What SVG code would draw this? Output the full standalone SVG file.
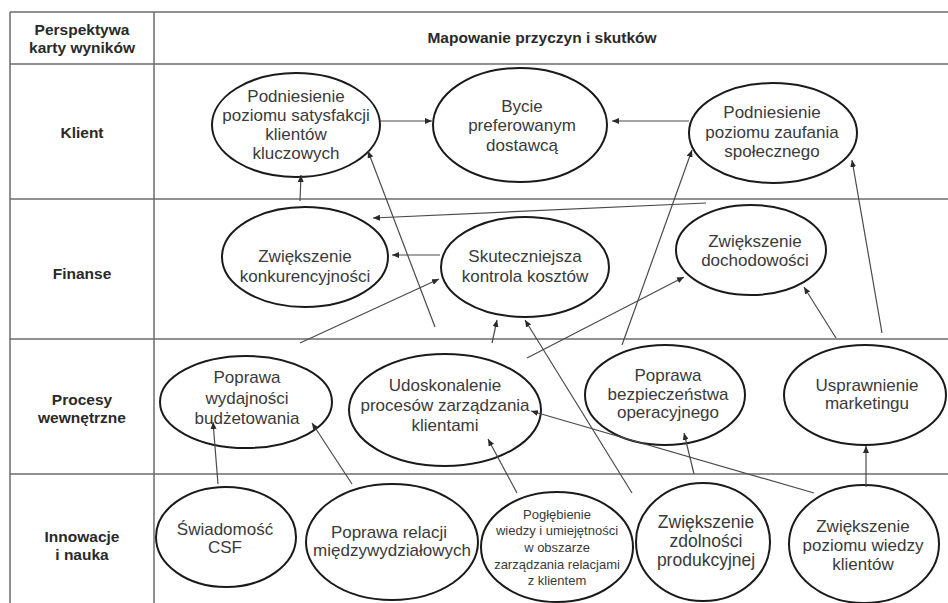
<svg xmlns="http://www.w3.org/2000/svg" width="948" height="603" viewBox="0 0 948 603">
<style>
.grid{stroke:#6b6b6b;stroke-width:1.5;fill:none}
.hdr{font-family:"Liberation Sans",Arial,sans-serif;font-weight:bold;font-size:15.5px;fill:#2a2a2a;text-anchor:middle}
.node ellipse{fill:#fff;stroke:#1a1a1a;stroke-width:2}
.node text{font-family:"Liberation Sans",Arial,sans-serif;font-size:17px;fill:#3a3a3a;text-anchor:middle}
.node text.sm{font-size:13px}
.node text.lg{font-size:17.5px}
#connectors line{stroke:#4a4a4a;stroke-width:1.2;marker-end:url(#ah)}
</style>
<defs>
<marker id="ah" markerUnits="userSpaceOnUse" markerWidth="7" markerHeight="6" refX="7" refY="3" orient="auto">
<path d="M0,0 L7,3 L0,6 z" fill="#2a2a2a"/>
</marker>
</defs>
<rect width="948" height="603" fill="#fff"/>
<g id="table">
<line class="grid" x1="10" y1="12" x2="948" y2="12"/>
<line class="grid" x1="10" y1="64" x2="948" y2="64"/>
<line class="grid" x1="10" y1="199" x2="948" y2="199"/>
<line class="grid" x1="10" y1="339" x2="948" y2="339"/>
<line class="grid" x1="10" y1="474" x2="948" y2="474"/>
<line class="grid" x1="10" y1="12" x2="10" y2="603"/>
<line class="grid" x1="154" y1="12" x2="154" y2="603"/>
<text class="hdr" x="82" y="35">Perspektywa</text>
<text class="hdr" x="82" y="53">karty wyników</text>
<text class="hdr" x="542" y="43">Mapowanie przyczyn i skutków</text>
<text class="hdr" x="82" y="138">Klient</text>
<text class="hdr" x="82" y="279">Finanse</text>
<text class="hdr" x="82" y="405">Procesy</text>
<text class="hdr" x="82" y="423">wewnętrzne</text>
<text class="hdr" x="82" y="542">Innowacje</text>
<text class="hdr" x="82" y="560">i nauka</text>
</g>
<g id="n1" class="node"><ellipse cx="296" cy="125" rx="84" ry="52"/>
<text x="296" y="102">Podniesienie</text><text x="296" y="121">poziomu satysfakcji</text><text x="296" y="140">klientów</text><text x="296" y="159">kluczowych</text></g>
<g id="n2" class="node"><ellipse cx="520" cy="125" rx="87" ry="57"/>
<text x="522" y="112">Bycie</text><text x="522" y="131">preferowanym</text><text x="522" y="151">dostawcą</text></g>
<g id="n3" class="node"><ellipse cx="773" cy="133" rx="84" ry="50"/>
<text x="772" y="118">Podniesienie</text><text x="772" y="138">poziomu zaufania</text><text x="772" y="157">społecznego</text></g>
<g id="n4" class="node"><ellipse cx="305" cy="257" rx="83" ry="50"/>
<text x="305" y="262">Zwiększenie</text><text x="305" y="282">konkurencyjności</text></g>
<g id="n5" class="node"><ellipse cx="525" cy="267" rx="84" ry="50"/>
<text x="525" y="262">Skuteczniejsza</text><text x="525" y="282">kontrola kosztów</text></g>
<g id="n6" class="node"><ellipse cx="751" cy="250" rx="75" ry="45"/>
<text x="755" y="247">Zwiększenie</text><text x="755" y="266">dochodowości</text></g>
<g id="n7" class="node"><ellipse cx="246" cy="402" rx="86" ry="46"/>
<text x="247" y="383">Poprawa</text><text x="247" y="404">wydajności</text><text x="247" y="424">budżetowania</text></g>
<g id="n8" class="node"><ellipse cx="445" cy="410" rx="96" ry="56"/>
<text x="445" y="391">Udoskonalenie</text><text x="445" y="411">procesów zarządzania</text><text x="445" y="431">klientami</text></g>
<g id="n9" class="node"><ellipse cx="665" cy="395" rx="80" ry="50"/>
<text x="668" y="381">Poprawa</text><text x="668" y="400">bezpieczeństwa</text><text x="668" y="418">operacyjnego</text></g>
<g id="n10" class="node"><ellipse cx="865" cy="395" rx="81" ry="50"/>
<text x="867" y="391">Usprawnienie</text><text x="867" y="409">marketingu</text></g>
<g id="n11" class="node"><ellipse cx="226" cy="537" rx="70" ry="50"/>
<text x="225" y="535">Świadomość</text><text x="225" y="553">CSF</text></g>
<g id="n12" class="node"><ellipse cx="392" cy="542" rx="86" ry="58"/>
<text x="389" y="538">Poprawa relacji</text><text x="392" y="556">międzywydziałowych</text></g>
<g id="n13" class="node"><ellipse cx="557" cy="547" rx="76" ry="55"/>
<text class="sm" x="557" y="519">Pogłębienie</text><text class="sm" x="557" y="535">wiedzy i umiejętności</text><text class="sm" x="557" y="552">w obszarze</text><text class="sm" x="557" y="569">zarządzania relacjami</text><text class="sm" x="557" y="585">z klientem</text></g>
<g id="n14" class="node"><ellipse cx="703" cy="542" rx="67" ry="59"/>
<text class="lg" x="706" y="528">Zwiększenie</text><text class="lg" x="706" y="547">zdolności</text><text class="lg" x="706" y="566">produkcyjnej</text></g>
<g id="n15" class="node"><ellipse cx="864" cy="544" rx="75" ry="59"/>
<text x="863" y="532">Zwiększenie</text><text x="863" y="551">poziomu wiedzy</text><text x="863" y="570">klientów</text></g>
<g id="connectors">
<line x1="380" y1="121" x2="432" y2="121"/>
<line x1="689" y1="121" x2="612" y2="121"/>
<line x1="300" y1="201" x2="301" y2="175"/>
<line x1="435" y1="327" x2="368" y2="151"/>
<line x1="706" y1="203" x2="373" y2="218"/>
<line x1="440" y1="255" x2="392" y2="255"/>
<line x1="300" y1="343" x2="439" y2="279"/>
<line x1="492" y1="343" x2="497" y2="320"/>
<line x1="632" y1="493" x2="525" y2="320"/>
<line x1="527" y1="358" x2="684" y2="277"/>
<line x1="622" y1="345" x2="692" y2="150"/>
<line x1="882" y1="333" x2="852" y2="160"/>
<line x1="836" y1="338" x2="804" y2="287"/>
<line x1="218" y1="484" x2="213" y2="422"/>
<line x1="352" y1="484" x2="312" y2="423"/>
<line x1="517" y1="493" x2="488" y2="439"/>
<line x1="694" y1="474" x2="684" y2="433"/>
<line x1="814" y1="493" x2="531" y2="411"/>
<line x1="866" y1="487" x2="866" y2="446"/>
</g>
</svg>
